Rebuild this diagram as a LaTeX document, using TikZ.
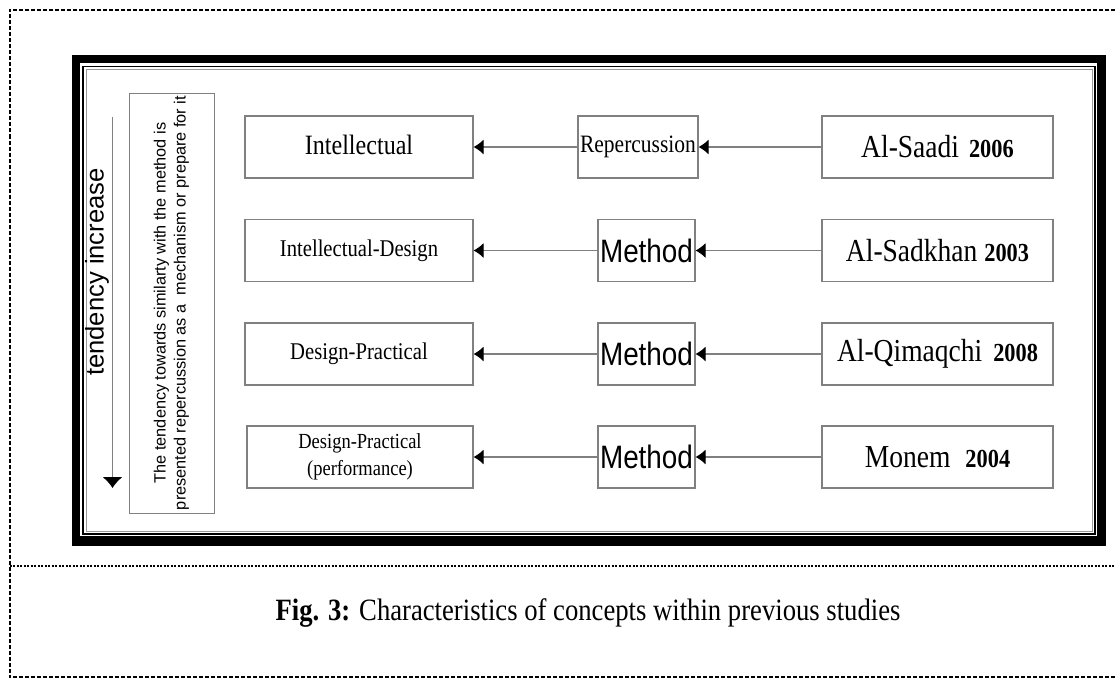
\documentclass[tikz,border=0pt]{standalone}
\usepackage{fontspec}
\setmainfont{Liberation Serif}[FakeStretch=0.86]
\newfontfamily\methodfont{Liberation Sans}[FakeStretch=0.86]
\newfontfamily\sidefont{Liberation Sans}
\usetikzlibrary{arrows.meta, positioning}

\newcommand{\yr}[1]{\textbf{\fontsize{26}{28}\selectfont #1}}

\begin{document}
\begin{tikzpicture}[
    x=1pt, y=-1pt,
    box/.style={rectangle, draw=black!50, line width=1.1pt, minimum height=62pt, inner sep=0pt, align=center},
    result/.style={box, minimum width=228pt},
    link/.style={box, minimum width=97pt},
    study/.style={box, minimum width=231pt, font=\fontsize{32}{36}\selectfont},
    note/.style={rectangle, draw=black!50, line width=1pt, inner sep=0pt, align=center, font=\sidefont\fontsize{16.3}{20}\selectfont},
    arrow/.style={draw=black!50, line width=1.1pt, -{Latex[length=10pt, width=15pt, color=black]}},
    trend/.style={draw=black!50, line width=1.1pt, -{Latex[length=11pt, width=20pt, color=black]}},
    methodtext/.style={font=\methodfont\fontsize{32.4}{36}\selectfont}
]
\useasboundingbox (0,0) rectangle (1115,680);

% Page border and caption rule
\draw[line width=2pt, dash pattern=on 4pt off 2pt] (1115,10) -- (9.5,10) -- (9.5,677) -- (1115,677);
\draw[line width=1.4pt, dash pattern=on 2pt off 1.5pt] (9.5,566) -- (1115,566);

% Frame
\fill[black] (72,55) rectangle (1106,546);
\fill[white] (80,63) rectangle (1097,536);
\draw[line width=1.8pt] (83,66.5) rectangle (1095,534);
\draw[black!40, line width=1pt] (86,69) rectangle (1092.5,531.5);

% Studies
\node[study] (saadi) at (937.5,147) {Al-Saadi\hspace{10pt}\yr{2006}};
\node[study] (sadkhan) at (937.5,250.5) {Al-Sadkhan \yr{2003}};
\node[study] (qimaqchi) at (937.5,354) {Al-Qimaqchi\hspace{11pt}\yr{2008}};
\node[study] (monem) at (937.5,457) {Monem\hspace{15pt}\yr{2004}};

% Links
\node[link, minimum width=120pt, font=\fontsize{25}{28}\selectfont] (rep) at (638,147) {Repercussion};
\node[link, methodtext] (method1) at (646.5,250.5) {Method};
\node[link, methodtext] (method2) at (646.5,354) {Method};
\node[link, methodtext] (method3) at (646.5,457) {Method};

% Results
\node[result, font=\fontsize{28}{32}\selectfont] (intel) at (359,147) {\raisebox{5pt}{Intellectual}};
\node[result, font=\fontsize{24}{28}\selectfont] (inteldesign) at (359,250.5) {Intellectual-Design};
\node[result, font=\fontsize{24}{28}\selectfont] (designprac) at (359,354) {Design-Practical};
\node[result, minimum width=226pt, font=\fontsize{21.5}{27}\selectfont] (designperf) at (360,457) {Design-Practical\\(performance)};

% Tendency
\node[note, rotate=90, minimum width=420pt, minimum height=85pt] (tendbox) at (171.5,303) {The tendency towards similarty with the method is\\presented repercussion as a \ mechanism or prepare for it};
\node[rotate=90, font=\sidefont\fontsize{25.6}{28}\selectfont] (tendlabel) at (97,272) {tendency increase};
\coordinate (tendtop) at (112.5,117);
\coordinate (tendend) at (112.5,488);
\draw[trend] (tendtop) -- (tendend);

% Connections
\draw[arrow] (saadi) -- (rep);
\draw[arrow] (rep) -- (intel);
\draw[arrow] (sadkhan) -- (method1);
\draw[arrow] (method1) -- (inteldesign);
\draw[arrow] (qimaqchi) -- (method2);
\draw[arrow] (method2) -- (designprac);
\draw[arrow] (monem) -- (method3);
\draw[arrow] (method3) -- (designperf);

% Caption
\node[font=\fontsize{31}{34}\selectfont] (caption) at (588,613) {\textbf{Fig. 3:} Characteristics of concepts within previous studies};

\end{tikzpicture}
\end{document}
